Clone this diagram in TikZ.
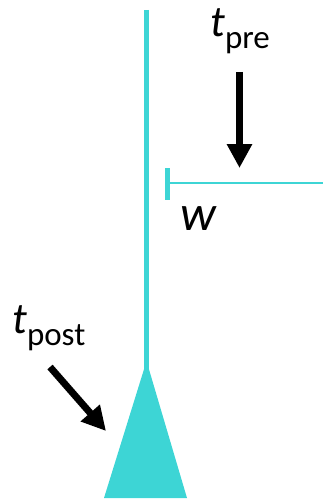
\documentclass[tikz,border=0pt]{standalone}
\usepackage{fontspec}
\setmainfont{Carlito}
\usetikzlibrary{arrows.meta}

\definecolor{cell}{RGB}{61,213,213}

\tikzset{
  dendrite/.style={draw=cell, line width=5pt},
  spike/.style={draw=black, line width=7pt, -{Triangle[width=24pt,length=24pt]}},
  label/.style={inner sep=0pt, anchor=base west, font=\fontsize{44}{52}\selectfont}
}

\newcommand{\timelabel}[1]{\textit{t}\raisebox{-12pt}{\fontsize{33}{38}\selectfont #1}}

\begin{document}
\begin{tikzpicture}[x=1pt, y=-1pt]
    \useasboundingbox (0,0) rectangle (323,500);

    % Dendrite and soma
    \coordinate (dendtop) at (146.5,10);
    \coordinate (apex) at (146.5,372);
    \draw[dendrite] (dendtop) -- (apex);
    \fill[cell] (145,366) -- (148,366) -- (187,498) -- (104,498) -- cycle;

    % Synapse onto the dendrite
    \coordinate (syn) at (167.5,183);
    \coordinate (axon) at (323,183);
    \draw[draw=cell, line width=2pt] (syn) -- (axon);
    \draw[dendrite] (167.5,168) -- (167.5,200);
    \node[label, font=\fontsize{50}{58}\selectfont] (weight) at (180,230) {\textit{w}};

    % Presynaptic spike
    \node[label] (pre) at (210,37) {\timelabel{pre}};
    \coordinate (pretip) at (239.5,168);
    \draw[spike] (239.5,72) -- (pretip);

    % Postsynaptic spike
    \node[label] (post) at (12,333) {\timelabel{post}};
    \coordinate (posttip) at (106,431);
    \draw[spike] (50,367) -- (posttip);
\end{tikzpicture}
\end{document}
